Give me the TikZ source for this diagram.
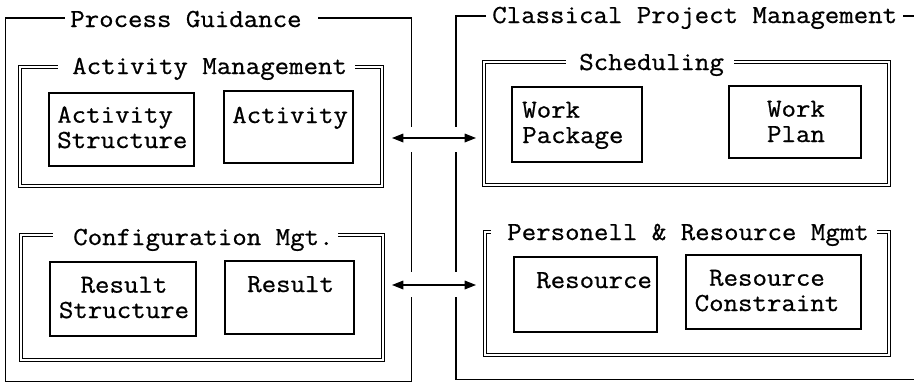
\documentclass[tikz,border=0pt]{standalone}
\usepackage{fontspec}
\newfontfamily\boxfont{Latin Modern Mono}[FakeBold=0.7,FakeStretch=1.08]
\usetikzlibrary{arrows.meta,fit}

\begin{document}
\begin{tikzpicture}[x=0.75pt,y=-0.75pt,
  frame/.style={line width=1pt},
  dblframe/.style={double, line width=0.8pt, double distance=1.9pt},
  item/.style={draw, line width=1.1pt, inner sep=0pt},
  txt/.style={font=\boxfont\fontsize{19.5}{19}\selectfont, inner sep=0pt},
  link/.style={line width=0.9pt,
    {Triangle[length=8.5pt,width=6.5pt]}-{Triangle[length=8.5pt,width=6.5pt]}},
]
\useasboundingbox (0,0) rectangle (914,383);

% ---- Process Guidance (outer frame, open where the links pass)
\draw[frame] (318,18) -- (411.5,18) -- (411.5,127);
\draw[frame] (411.5,152) -- (411.5,272);
\draw[frame] (411.5,297) -- (411.5,381.5) -- (5.5,381.5) -- (5.5,18) -- (65,18);
\node[txt, anchor=base west] (pgT) at (70,27) {Process Guidance};

% ---- Classical Project Management (outer frame)
\draw[frame] (486,16) -- (456,16) -- (456,127);
\draw[frame] (456,152) -- (456,272);
\draw[frame] (456,297) -- (456,379.5) -- (920,379.5);
\draw[frame] (903,16) -- (920,16);
\node[txt, anchor=base west] (cpmT) at (492,23) {Classical Project Management};

% ---- Activity Management
\draw[dblframe] (355,67) -| (382,186) -| (20,67) -- (58,67);
\node[txt, anchor=base west] (amT) at (72,74) {Activity Management};
\node[item, fit={(49,93) (194,166)}] (asBox) {};
\node[txt, anchor=base west, align=left] (asT) at (57,148) {Activity\\Structure};
\node[item, fit={(224,91) (353,163)}] (actBox) {};
\node[txt, anchor=base west] (actT) at (232,123) {Activity};

% ---- Configuration Mgt.
\draw[dblframe] (338,235) -| (383,360) -| (21,235) -- (53,235);
\node[txt, anchor=base west] (cmT) at (73,245) {Configuration Mgt.};
\node[item, fit={(50,262) (196,336)}] (rsBox) {};
\node[txt, anchor=base, align=center] (rsT) at (124,318) {Result\\Structure};
\node[item, fit={(225,261) (354,334)}] (resBox) {};
\node[txt, anchor=base west] (resT) at (247,292) {Result};

% ---- Scheduling
\draw[dblframe] (734,62) -| (889,185) -| (484,62) -- (566,62);
\node[txt, anchor=base west] (schT) at (579,70) {Scheduling};
\node[item, fit={(512,87) (642,162)}] (wpkBox) {};
\node[txt, anchor=base west, align=left] (wpkT) at (522,143) {Work\\Package};
\node[item, fit={(729,86) (861,158)}] (wplBox) {};
\node[txt, anchor=base, align=center] (wplT) at (796,142) {Work\\Plan};

% ---- Personell & Resource Mgmt
\draw[dblframe] (877,232) -| (889,355) -| (485,232) -- (491,232);
\node[txt, anchor=base west] (prT) at (507,240) {Personell \& Resource Mgmt};
\node[item, fit={(514,257) (657,332)}] (rBox) {};
\node[txt, anchor=base west] (rT) at (536,288) {Resource};
\node[item, fit={(686,255) (861,329)}] (rcBox) {};
\node[txt, anchor=base, align=center] (rcT) at (767,311) {Resource\\Constraint};

% ---- links between the two sides
\coordinate (l1a) at (392,138);
\coordinate (l1b) at (476,138);
\coordinate (l2a) at (392,285);
\coordinate (l2b) at (476,285);
\draw[link] (l1a) -- (l1b);
\draw[link] (l2a) -- (l2b);
\end{tikzpicture}
\end{document}
